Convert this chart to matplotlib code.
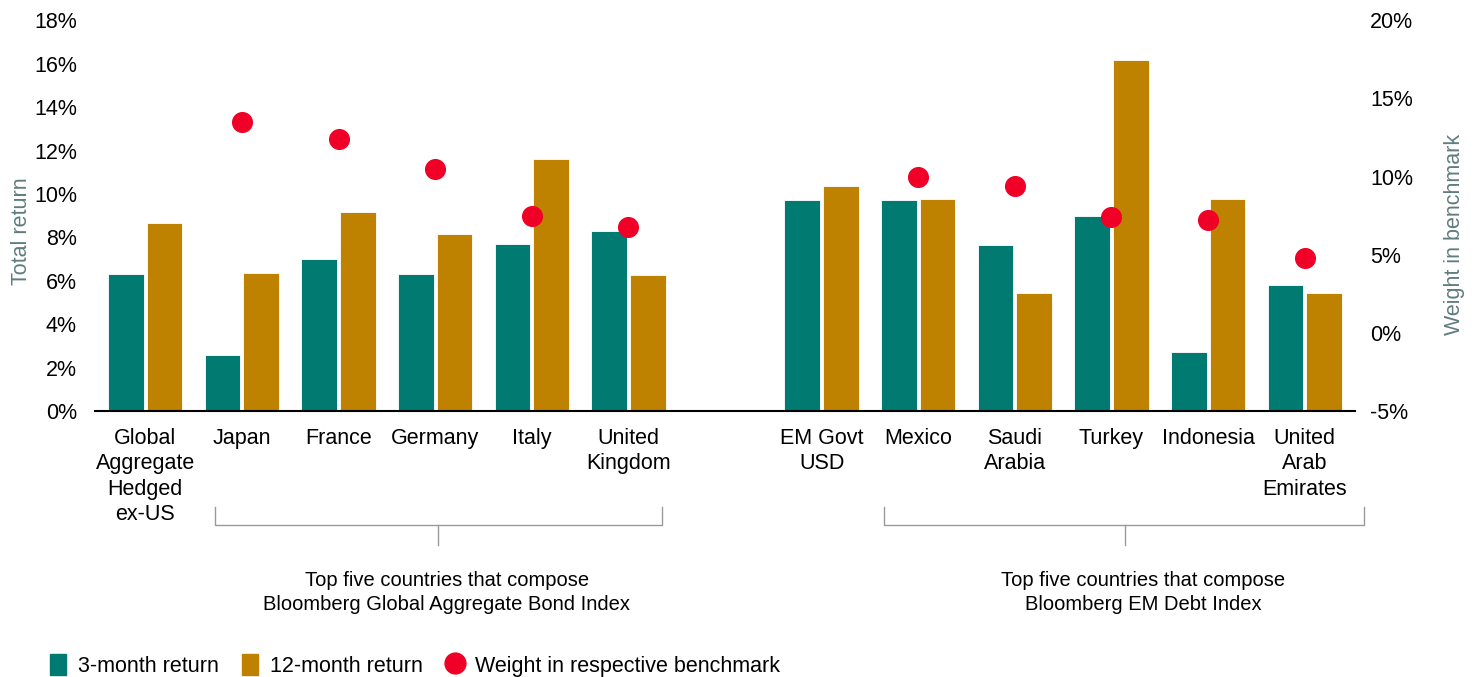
import numpy as np
import matplotlib.pyplot as plt
from matplotlib.patches import Patch
from matplotlib.lines import Line2D

plt.rcParams['font.family'] = ['Liberation Sans', 'DejaVu Sans']
plt.rcParams['font.size'] = 15.5

# data
categories = ['Global\nAggregate\nHedged\nex-US', 'Japan', 'France', 'Germany', 'Italy',
              'United\nKingdom', 'EM Govt\nUSD', 'Mexico', 'Saudi\nArabia', 'Turkey',
              'Indonesia', 'United\nArab\nEmirates']
ret_3m = [6.3, 2.6, 7.0, 6.3, 7.7, 8.3, 9.7, 9.7, 7.65, 9.0, 2.7, 5.8]
ret_12m = [8.65, 6.35, 9.15, 8.15, 11.6, 6.25, 10.35, 9.75, 5.45, 16.15, 9.75, 5.45]
weight = [np.nan, 13.5, 12.4, 10.5, 7.5, 6.8, np.nan, 10.0, 9.4, 7.4, 7.2, 4.8]
group_titles = ['Top five countries that compose\nBloomberg Global Aggregate Bond Index',
                'Top five countries that compose\nBloomberg EM Debt Index']

teal = '#017a72'
gold = '#bf8200'
red = '#f00026'
label_col = '#5f7d7c'

x = np.array([0, 1, 2, 3, 4, 5, 7, 8, 9, 10, 11, 12], dtype=float)

fig = plt.figure(figsize=(14.76, 6.77), dpi=100)
ax = fig.add_axes([0.0644, 0.393, 0.8536, 0.577])
w = 0.37
ax.bar(x - 0.2, ret_3m, w, color=teal, edgecolor='white', linewidth=0.6, zorder=2)
ax.bar(x + 0.2, ret_12m, w, color=gold, edgecolor='white', linewidth=0.6, zorder=2)
ax.set_ylim(0, 18)
ax.set_xlim(-0.52, 12.52)
ax.set_yticks(np.arange(0, 19, 2))
ax.set_yticklabels([f'{v}%' for v in range(0, 19, 2)])
ax.set_xticks(x)
ax.set_xticklabels(categories, linespacing=1.28)
ax.tick_params(axis='x', length=0, pad=12)
ax.tick_params(axis='y', length=0, pad=13)
for s in ['top', 'right', 'left']:
    ax.spines[s].set_visible(False)
ax.spines['bottom'].set_linewidth(1.5)
ax.set_ylabel('Total return', color=label_col, fontsize=15.5)
ax.yaxis.set_label_coords(-0.050, 0.46)

ax2 = ax.twinx()
ax2.set_ylim(-5, 20)
ax2.scatter(x, weight, s=200, color=red, zorder=3)
ax2.set_yticks(np.arange(-5, 21, 5))
ax2.set_yticklabels([f'{v}%' for v in range(-5, 21, 5)])
ax2.tick_params(axis='y', length=0, pad=11)
for s in ['top', 'right', 'left', 'bottom']:
    ax2.spines[s].set_visible(False)
ax2.set_ylabel('Weight in benchmark', color=label_col, fontsize=15.5)
ax2.yaxis.set_label_coords(1.071, 0.453)

# group brackets
tr = ax.get_xaxis_transform()
brackets = [(0.72, 5.35, 3.03), (7.65, 12.61, 10.14)]
for (x0, x1, xc), title, xt in zip(brackets, group_titles, [3.12, 10.33]):
    ax.plot([x0, x0, x1, x1], [-0.2455, -0.2916, -0.2916, -0.2455], color='#9a9a9a',
            lw=1, transform=tr, clip_on=False)
    ax.plot([xc, xc], [-0.2916, -0.3427], color='#9a9a9a', lw=1, transform=tr, clip_on=False)
    ax.text(xt, -0.465, title, transform=tr, ha='center', va='center', fontsize=14.5,
            linespacing=1.38)

handles = [Patch(color=teal), Patch(color=gold),
           Line2D([], [], marker='o', ls='', color=red, markersize=15)]
fig.legend(handles, ['3-month return', '12-month return', 'Weight in respective benchmark'],
           loc='lower left', bbox_to_anchor=(0.0205, -0.028), ncol=3, frameon=False,
           handlelength=0.75, handleheight=1.1, handletextpad=0.55, columnspacing=1.1,
           fontsize=15.5)

fig.savefig('out.png', dpi=100)
